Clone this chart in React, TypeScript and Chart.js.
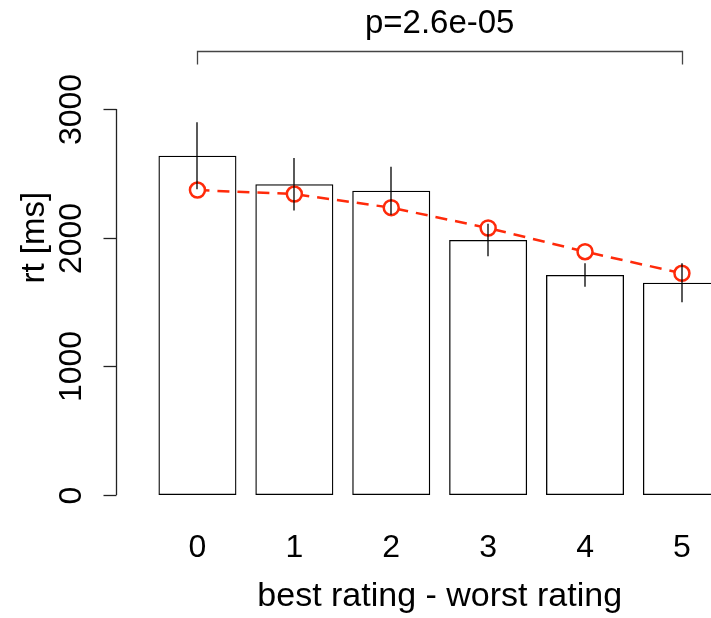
import React, { useEffect, useRef } from "react";
import { Chart, registerables } from "chart.js";

Chart.register(...registerables);

// ---- data ----
const categories = ["0", "1", "2", "3", "4", "5"];
const barMeans = [2637, 2415, 2365, 1982, 1710, 1650];
const barErrors = [260, 204, 187, 127, 91, 152];
const fitValues = [2370, 2339, 2233, 2075, 1891, 1723];
const yTicks = [0, 1000, 2000, 3000];
const xTitle = "best rating - worst rating";
const yTitle = "rt [ms]";
const pLabel = "p=2.6e-05";

const FONT = '"Liberation Sans", Arial, Helvetica, sans-serif';
const RED = "#ff2a0a";

const rPlugin = {
  id: "rstyle",
  afterDatasetsDraw(chart: any) {
    const { ctx } = chart;
    const x = chart.scales.x;
    const y = chart.scales.y;
    ctx.save();

    // error bars
    ctx.strokeStyle = "#000";
    ctx.lineWidth = 1.3;
    categories.forEach((c, i) => {
      const px = Math.round(x.getPixelForValue(Number(c)));
      ctx.beginPath();
      ctx.moveTo(px, y.getPixelForValue(barMeans[i] + barErrors[i]));
      ctx.lineTo(px, y.getPixelForValue(barMeans[i] - barErrors[i]));
      ctx.stroke();
    });

    // y axis (R style, detached)
    const ax = Math.round(x.left - 33) + 0.5;
    const yTop = y.getPixelForValue(yTicks[yTicks.length - 1]);
    const yBot = y.getPixelForValue(yTicks[0]);
    ctx.strokeStyle = "#222";
    ctx.lineWidth = 1.3;
    ctx.beginPath();
    ctx.moveTo(ax, yTop);
    ctx.lineTo(ax, yBot);
    ctx.stroke();
    ctx.fillStyle = "#000";
    ctx.font = `32px ${FONT}`;
    ctx.textAlign = "center";
    ctx.textBaseline = "middle";
    yTicks.forEach((v) => {
      const py = Math.round(y.getPixelForValue(v)) + 0.5;
      ctx.beginPath();
      ctx.moveTo(ax, py);
      ctx.lineTo(ax - 13, py);
      ctx.stroke();
      ctx.save();
      ctx.translate(ax - 45, py);
      ctx.rotate(-Math.PI / 2);
      ctx.fillText(String(v), 0, 1);
      ctx.restore();
    });

    // y title
    ctx.save();
    ctx.font = `33px ${FONT}`;
    ctx.translate(35, y.getPixelForValue(2000));
    ctx.rotate(-Math.PI / 2);
    ctx.fillText(yTitle, 0, 0);
    ctx.restore();

    // x tick labels
    ctx.font = `32px ${FONT}`;
    ctx.textBaseline = "alphabetic";
    categories.forEach((c) => {
      ctx.fillText(c, x.getPixelForValue(Number(c)), yBot + 62);
    });

    // x title
    const x0 = x.getPixelForValue(Number(categories[0]));
    const x5 = x.getPixelForValue(Number(categories[categories.length - 1]));
    const mid = (x0 + x5) / 2;
    ctx.font = `34px ${FONT}`;
    ctx.fillText(xTitle, mid, yBot + 111);

    // significance bracket
    const by = 51.5;
    ctx.strokeStyle = "#444";
    ctx.lineWidth = 1.3;
    ctx.beginPath();
    ctx.moveTo(Math.round(x0) + 0.5, by + 13);
    ctx.lineTo(Math.round(x0) + 0.5, by);
    ctx.lineTo(Math.round(x5) + 0.5, by);
    ctx.lineTo(Math.round(x5) + 0.5, by + 13);
    ctx.stroke();
    ctx.font = `33px ${FONT}`;
    ctx.fillText(pLabel, mid, 33);

    ctx.restore();
  },
};

export default function App() {
  const ref = useRef<HTMLCanvasElement | null>(null);
  useEffect(() => {
    if (!ref.current) return;
    const chart = new Chart(ref.current, {
      type: "bar",
      data: {
        datasets: [
          {
            type: "bar",
            order: 2,
            data: categories.map((c, i) => ({ x: Number(c), y: barMeans[i] })),
            backgroundColor: "rgba(255,255,255,0)",
            borderColor: "#000",
            borderWidth: 1.3,
            borderSkipped: false,
            barPercentage: 0.805,
            categoryPercentage: 1,
          } as any,
          {
            type: "line",
            order: 1,
            data: categories.map((c, i) => ({ x: Number(c), y: fitValues[i] })),
            borderColor: RED,
            borderWidth: 2.5,
            borderDash: [12, 8],
            pointRadius: 7.5,
            pointBorderWidth: 2.5,
            pointBorderColor: RED,
            pointBackgroundColor: "#fff",
            tension: 0,
          } as any,
        ],
      },
      options: {
        animation: false,
        responsive: false,
        devicePixelRatio: 1,
        events: [],
        layout: { autoPadding: false, padding: { left: 149, right: 0, top: 109, bottom: 123 } },
        plugins: { legend: { display: false }, tooltip: { enabled: false } },
        scales: {
          x: {
            type: "linear",
            display: false,
            offset: false,
            min: -0.5,
            max: 5.3,
            afterBuildTicks: (s: any) => {
              s.ticks = categories.map((c) => ({ value: Number(c) }));
            },
          },
          y: { type: "linear", display: false, min: 0, max: 3000 },
        },
      },
      plugins: [rPlugin],
    });
    return () => chart.destroy();
  }, []);
  return (
    <div style={{ position: "fixed", left: 0, top: 0, width: 711, height: 618, background: "#fff" }}>
      <canvas ref={ref} width={711} height={618} style={{ display: "block" }} />
    </div>
  );
}
